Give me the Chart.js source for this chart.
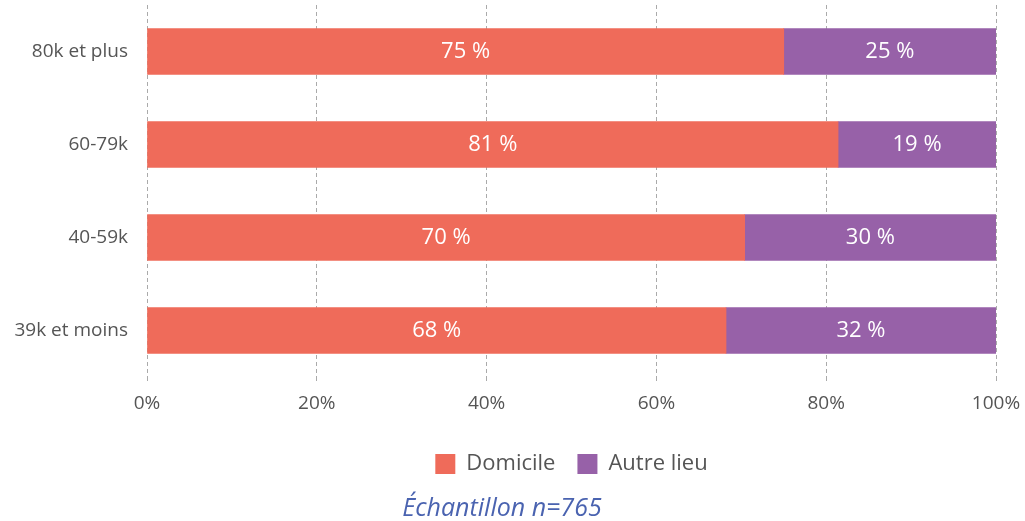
<!DOCTYPE html>
<html>
<head>
<meta charset="utf-8">
<script src="https://cdn.jsdelivr.net/npm/chart.js@4/dist/chart.umd.min.js"></script>
<style>
  html, body { margin: 0; padding: 0; background: #fff; }
  #wrap { width: 1025px; height: 521px; }
</style>
</head>
<body>
<div id="wrap"><canvas id="chart"></canvas></div>
<script>
// data
const categories = ['80k et plus', '60-79k', '40-59k', '39k et moins'];
const domicile = [75, 81.4, 70.4, 68.2];
const autreLieu = [25, 18.6, 29.6, 31.8];
const seriesNames = ['Domicile', 'Autre lieu'];
const xTicks = [0, 20, 40, 60, 80, 100];

const FONT = "'Open Sans', 'Noto Sans', sans-serif";

// draws the white percentage in the middle of each bar
const barLabels = {
  id: 'barLabels',
  afterDatasetsDraw(chart) {
    const ctx = chart.ctx;
    ctx.save();
    ctx.fillStyle = '#ffffff';
    ctx.font = '22px ' + FONT;
    ctx.textAlign = 'center';
    ctx.textBaseline = 'middle';
    chart.data.datasets.forEach((ds, i) => {
      chart.getDatasetMeta(i).data.forEach((bar, j) => {
        const p = bar.getProps(['x', 'y', 'base'], true);
        ctx.fillText(Math.round(ds.data[j]) + ' %', (p.x + p.base) / 2, p.y);
      });
    });
    ctx.restore();
  }
};

new Chart(document.getElementById('chart'), {
  type: 'bar',
  data: {
    labels: categories,
    datasets: [
      { label: seriesNames[0], data: domicile, backgroundColor: '#ef6b5a', barThickness: 46 },
      { label: seriesNames[1], data: autreLieu, backgroundColor: '#9761a8', barThickness: 46 }
    ]
  },
  options: {
    indexAxis: 'y',
    responsive: true,
    maintainAspectRatio: false,
    animation: false,
    layout: { padding: { top: 5, right: 29, left: 8, bottom: 0 } },
    scales: {
      x: {
        stacked: true,
        min: 0,
        max: 100,
        afterBuildTicks(axis) { axis.ticks = xTicks.map(v => ({ value: v })); },
        afterFit(axis) {
          axis.height = 54;
          axis.paddingLeft = 0;
          axis.paddingRight = 0;
        },
        border: { display: false, dash: [4, 3] },
        grid: { color: '#aaaaaa', tickLength: 7, tickBorderDash: [4, 3] },
        ticks: {
          padding: 8,
          color: '#555555',
          font: { family: FONT, size: 19 },
          callback: v => v + '%'
        }
      },
      y: {
        stacked: true,
        afterFit(axis) {
          axis.width = 139;
          axis.paddingTop = 0;
          axis.paddingBottom = 0;
        },
        border: { display: false },
        grid: { display: false, drawTicks: false },
        ticks: {
          padding: 19,
          color: '#555555',
          font: { family: FONT, size: 19 }
        }
      }
    },
    plugins: {
      legend: {
        position: 'bottom',
        fullSize: false,
        labels: {
          color: '#555555',
          font: { family: FONT, size: 22 },
          boxWidth: 20,
          boxHeight: 20,
          padding: 22
        }
      },
      subtitle: {
        display: true,
        position: 'bottom',
        text: 'Échantillon n=765',
        color: '#4a63b0',
        font: { family: FONT, size: 25, style: 'italic', weight: 'normal', lineHeight: 1 },
        padding: { top: 11, bottom: 0 }
      },
      tooltip: { enabled: false }
    }
  },
  plugins: [barLabels]
});
</script>
</body>
</html>
